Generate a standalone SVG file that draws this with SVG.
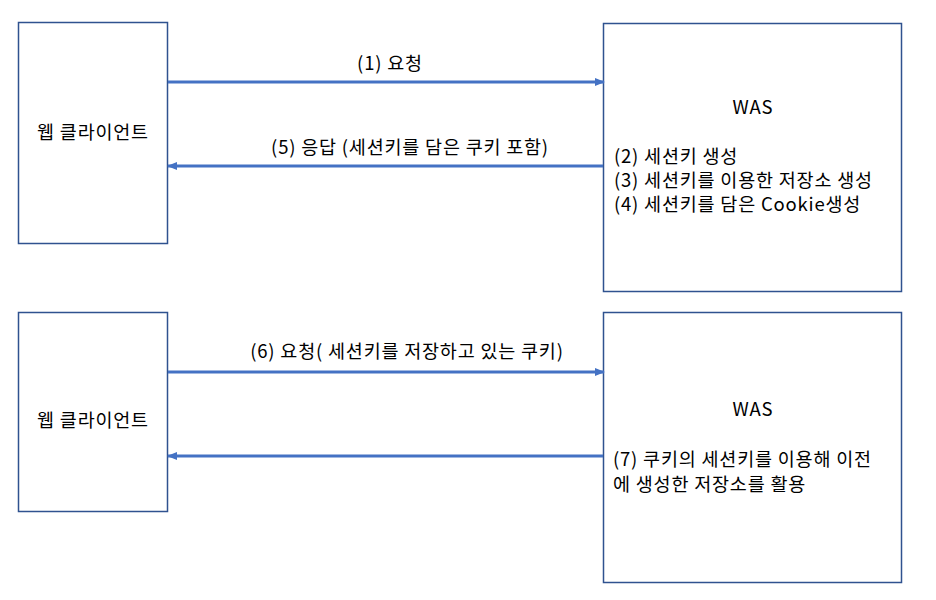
<svg xmlns="http://www.w3.org/2000/svg" width="936" height="600" viewBox="0 0 936 600">
<defs>
<marker id="ah" markerWidth="10" markerHeight="8" refX="9" refY="4" orient="auto" markerUnits="userSpaceOnUse">
<path d="M0,0 L10,4 L0,8 Z" fill="#4472C4"/>
</marker>
<style>
.box{fill:#fff;stroke:#2F528F;stroke-width:1.5}
.t{font-family:"Noto Sans CJK KR","Malgun Gothic",sans-serif;font-size:18.5px;letter-spacing:0.8px;fill:#000}
.c{text-anchor:middle}
.ln{stroke:#4472C4;stroke-width:3;fill:none;marker-end:url(#ah)}
</style>
</defs>
<rect width="936" height="600" fill="#fff"/>
<g id="client1"><rect class="box" x="18.5" y="22.5" width="149" height="221"/><text class="t c" x="93" y="139">웹 클라이언트</text></g>
<g id="was1"><rect class="box" x="603.5" y="23.5" width="298" height="268"/><text class="t c" x="753" y="114">WAS</text>
<text class="t" x="614" y="163">(2) 세션키 생성</text>
<text class="t" x="614" y="187">(3) 세션키를 이용한 저장소 생성</text>
<text class="t" x="614" y="211">(4) 세션키를 담은 Cookie생성</text></g>
<g id="client2"><rect class="box" x="18.5" y="312.5" width="149" height="199"/><text class="t c" x="93" y="427">웹 클라이언트</text></g>
<g id="was2"><rect class="box" x="603.5" y="312.5" width="298" height="270"/><text class="t c" x="753" y="416">WAS</text>
<text class="t" x="613" y="466">(7) 쿠키의 세션키를 이용해 이전</text>
<text class="t" x="613" y="491">에 생성한 저장소를 활용</text></g>
<g id="connectors">
<line class="ln" x1="168" y1="82" x2="604" y2="82"/>
<text class="t c" x="390" y="70">(1) 요청</text>
<line class="ln" x1="603" y1="166" x2="168" y2="166"/>
<text class="t c" x="410" y="154">(5) 응답 (세션키를 담은 쿠키 포함)</text>
<line class="ln" x1="168" y1="372" x2="604" y2="372"/>
<text class="t c" x="407" y="358">(6) 요청( 세션키를 저장하고 있는 쿠키)</text>
<line class="ln" x1="603" y1="456" x2="168" y2="456"/>
</g>
</svg>
